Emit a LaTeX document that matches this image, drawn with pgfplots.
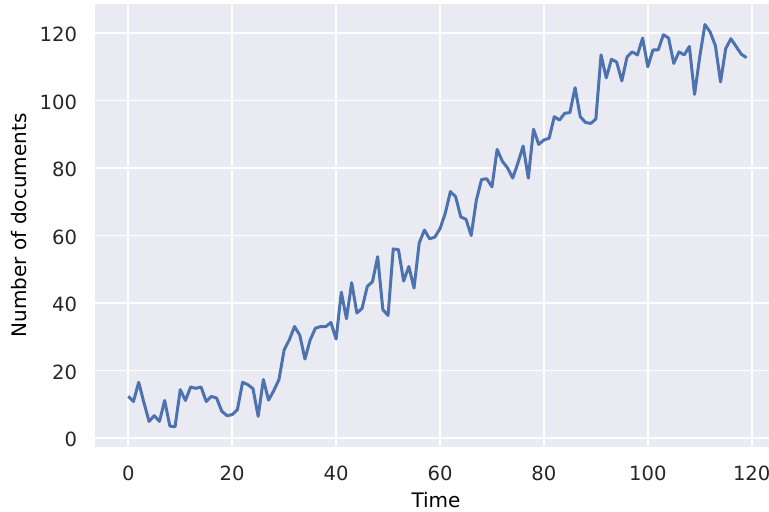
\documentclass[border=0pt]{standalone}
\usepackage{fontspec}
\setmainfont{DejaVu Sans}
\usepackage{pgfplots}
\pgfplotsset{compat=1.18}
\usepackage{pgfplotstable}

\definecolor{sbbg}{HTML}{EAEAF2}
\definecolor{sbblue}{HTML}{4C72B0}
\definecolor{sbtext}{HTML}{262626}

% documents per time step
\pgfplotstableread{
t v
0 12.3
1 10.8
2 16.5
3 10.5
4 4.9
5 6.6
6 4.9
7 11.1
8 3.5
9 3.3
10 14.3
11 11.1
12 15.1
13 14.7
14 15.1
15 10.8
16 12.3
17 11.8
18 7.9
19 6.6
20 6.9
21 8.4
22 16.5
23 15.8
24 14.6
25 6.4
26 17.3
27 11.2
28 14.0
29 17.3
30 26.1
31 29.1
32 33.0
33 30.5
34 23.4
35 29.0
36 32.5
37 33.0
38 33.0
39 34.2
40 29.3
41 43.2
42 35.3
43 46.0
44 37.0
45 38.4
46 44.9
47 46.3
48 53.7
49 38.0
50 36.3
51 56.0
52 55.8
53 46.5
54 50.8
55 44.4
56 57.8
57 61.6
58 59.0
59 59.5
60 62.0
61 66.5
62 73.0
63 71.5
64 65.5
65 64.8
66 60.0
67 70.5
68 76.6
69 76.8
70 74.4
71 85.5
72 82.0
73 80.0
74 77.0
75 81.5
76 86.5
77 77.0
78 91.5
79 87.0
80 88.3
81 88.8
82 95.2
83 94.2
84 96.2
85 96.4
86 103.8
87 95.2
88 93.5
89 93.2
90 94.5
91 113.5
92 106.7
93 112.2
94 111.4
95 105.8
96 112.9
97 114.4
98 113.5
99 118.5
100 110.0
101 115.0
102 115.0
103 119.5
104 118.5
105 111.0
106 114.4
107 113.5
108 116.0
109 101.8
110 113.0
111 122.5
112 120.3
113 116.3
114 105.5
115 115.4
116 118.3
117 116.0
118 113.7
119 112.7
}\docs

\begin{document}
\begin{tikzpicture}
\begin{axis}[
  scale only axis,
  width=337pt, height=221.35pt,
  xmin=-6.41, xmax=123.33,
  ymin=-2.6, ymax=128.6,
  xtick={0,20,...,120},
  ytick={0,20,...,120},
  axis background/.style={fill=sbbg},
  axis line style={draw=none},
  major tick length=0pt,
  grid=major,
  grid style={white, line width=0.9pt},
  /pgf/number format/assume math mode=true,
  ticklabel style={font=\fontsize{9.8}{11}\selectfont, text=sbtext},
  xticklabel style={anchor=base, yshift=-17pt, inner sep=0pt},
  yticklabel style={anchor=east, xshift=-8.75pt, yshift=-0.8pt, inner sep=0pt},
  label style={font=\fontsize{10.9}{13}\selectfont, text=sbtext},
  every axis x label/.style={at={(rel axis cs:0,0)}, xshift=170.5pt, yshift=-26.9pt, anchor=center},
  every axis y label/.style={at={(rel axis cs:0,0.5)}, xshift=-37.9pt, rotate=90, anchor=center},
  xlabel={Time},
  ylabel={Number of documents},
]
\addplot[sbblue, line width=1.5pt, mark=none, line join=round] table[x=t, y=v] {\docs};
\end{axis}
\pgfresetboundingbox
\path[use as bounding box] (-47.5pt,-32.65pt) rectangle (337pt,223.35pt);
\end{tikzpicture}
\end{document}
